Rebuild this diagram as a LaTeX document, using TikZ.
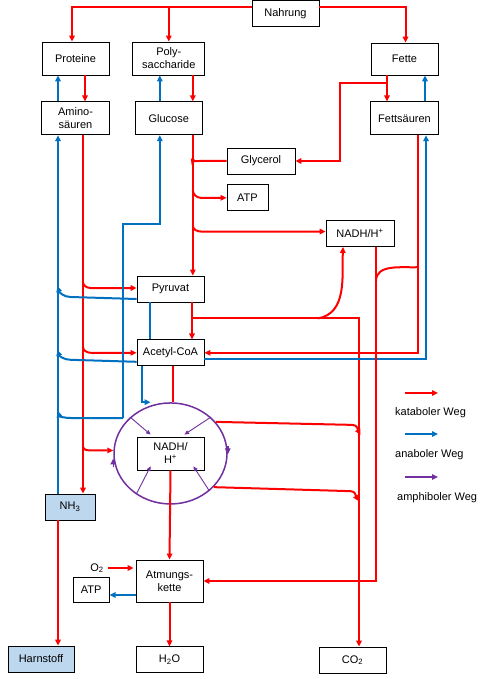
\documentclass[tikz,border=0pt]{standalone}
\usepackage{fontspec}
\setmainfont{Liberation Sans}
\usepackage{tikz}
\usetikzlibrary{positioning,arrows.meta,shapes.geometric}
\definecolor{rot}{RGB}{255,0,0}
\definecolor{blau}{RGB}{0,112,192}
\definecolor{violett}{RGB}{112,48,160}
\definecolor{hellblau}{RGB}{189,215,238}

\begin{document}
\begin{tikzpicture}[x=1pt,y=-1pt,
  box/.style={draw, line width=0.8pt, minimum width=67pt, minimum height=26pt, inner sep=1pt, align=center, font=\fontsize{11}{13}\selectfont},
  kat/.style={draw=rot, line width=2pt, -{Triangle[length=6pt,width=5.5pt]}},
  ana/.style={draw=blau, line width=2pt, -{Triangle[length=6pt,width=5.5pt]}},
  amph/.style={draw=violett, line width=0.9pt, -{Triangle[length=4.5pt,width=4pt]}},
  zyk/.style={draw=violett, line width=1.5pt, -{Triangle[length=6pt,width=5.5pt]}},
  legtext/.style={anchor=west, inner sep=0pt, font=\fontsize{11}{13}\selectfont}]
\useasboundingbox (0,0) rectangle (483,679);
\node[box] (nahrung) at (285.5,13.5) {Nahrung};
%----------------------------------
\node[box, minimum height=33pt] (proteine) at (75.5,58.5) {Proteine};
\node[box, minimum height=33pt, minimum width=72pt, right=23pt of proteine] (poly) {Poly-\\saccharide};
\node[box, minimum height=32pt] (fette) at (404.5,59) {Fette};
\node[box, minimum height=33pt, minimum width=68pt, below=26pt of proteine] (amino) {Amino-\\säuren};
\node[box, minimum height=33pt, below=26pt of poly] (glucose) {Glucose};
\node[box, minimum height=33pt, minimum width=68pt, below=26pt of fette] (fettsaeuren) {Fettsäuren};
%----------------------------------
\node[box, minimum width=68pt] (glycerol) at (261,161) {Glycerol};
\node[box, minimum width=41pt, below=10pt of glycerol.south west, anchor=north west] (atp1) {ATP};
\node[box, minimum width=68pt] (nadh1) at (360,233.5) {NADH/H\textsuperscript{+}};
\node[box] (pyruvat) at (170.5,289) {Pyruvat};
\node[box, below=37pt of pyruvat] (acetyl) {Acetyl-CoA};
\node[draw=violett, line width=1.5pt, ellipse, minimum width=113pt, minimum height=101pt, below=36pt of acetyl] (zyklus) {};
\node[box, minimum height=33pt] (nadh2) at (zyklus) {NADH/\\H\textsuperscript{+}};
%----------------------------------
\node[box, minimum width=50pt, fill=hellblau] (nh3) at (70,507) {NH\textsubscript{3}};
\node[box, minimum width=66pt, fill=hellblau] (harnstoff) at (41,659) {Harnstoff};
\node[box, minimum height=42pt] (atmung) at (169.5,581) {Atmungs-\\kette};
\node[box, minimum width=36pt, minimum height=25pt, left=26pt of atmung.south west, anchor=south east] (atp2) {ATP};
\node[inner sep=0pt, font=\fontsize{11}{13}\selectfont] (o2) at (97,568) {O\textsubscript{2}};
\node[box, below=44pt of atmung] (h2o) {H\textsubscript{2}O};
\node[box] (co2) at (352.5,660) {CO\textsubscript{2}};
%----------------------------------
\coordinate (p1) at ([xshift=9.5pt]proteine.south);   % rot
\coordinate (a1) at ([xshift=-17.5pt]amino.north);    % blau
\coordinate (g1) at ([xshift=24pt]poly.south);
\coordinate (g2) at ([xshift=-9pt]glucose.north);
\coordinate (f1) at ([xshift=-17.5pt]fette.south);
\coordinate (f2) at ([xshift=20.5pt]fettsaeuren.north);
\draw[kat] ([yshift=6pt]nahrung.west) -| ([xshift=-3.5pt]proteine.north);
\draw[kat] ([yshift=6pt]nahrung.west) -| (poly.north);
\draw[kat] ([yshift=6pt]nahrung.east) -| ([xshift=1pt]fette.north);
\draw[kat] (p1) -- (p1 |- amino.north);
\draw[ana] (a1) -- (a1 |- proteine.south);
\draw[kat] (g1) -- (g1 |- glucose.north);
\draw[ana] (g2) -- (g2 |- poly.south);
\draw[kat] (f1) -- (f1 |- fettsaeuren.north);
\draw[ana] (f2) -- (f2 |- fette.south);
\draw[kat] (f1) -- ++(0,8) -| ([xshift=45pt]glycerol.east) -- (glycerol.east);
%----------------------------------
\coordinate (g3) at ([xshift=24pt]glucose.south); % Glykolyse
\draw[kat] (g3) -- (g3 |- pyruvat.north);
\draw[kat] (glycerol.west) -- ++(-27,0) to[out=180,in=70] ++(-8,4);
\draw[kat] (g3 |- atp1.west) ++(0,-8) to[out=-90,in=180] ++(8,8) -- (atp1.west);
\draw[kat] (g3 |- nadh1.west) ++(0,-8) to[out=-90,in=180] ++(8,6) -- ([yshift=2pt]nadh1.west);
%----------------------------------
\coordinate (a2) at ([xshift=7.5pt]amino.south);  % rot
\coordinate (a3) at ([xshift=-17.5pt]amino.south); % blau
\draw[kat] (a2) -- (a2 |- nh3.north);
\draw[ana] (a3 |- nh3.north) -- (a3);
\draw[kat] (a2 |- pyruvat.west) ++(0,-7) to[out=-90,in=180] ++(8,6) -- ([yshift=1pt]pyruvat.west);
\draw[kat] (a2 |- acetyl.west) ++(0,-6) to[out=-90,in=180] ++(8,6) -- (acetyl.west);
\draw[kat] (a2 |- zyklus.west) ++(0,-7) to[out=-90,in=180] ++(8,4) -- ([yshift=3pt]zyklus.west);
\draw[ana] ([yshift=-10pt]pyruvat.west) -- ++(-66,-2) to[out=180,in=-75] ++(-13,-11);
\draw[ana] ([yshift=-9pt]acetyl.west) -- ++(-66,-2) to[out=180,in=-75] ++(-13,-10);
\coordinate (zk) at (123,418);
\draw[ana] (zk) -- ++(0,-194) -| (g2 |- glucose.south);
\draw[ana] (zk) -- ++(-52,0) to[out=180,in=-75] ++(-13,-7);
%----------------------------------
\coordinate (py) at ([xshift=21.5pt]pyruvat.south);
\coordinate (pv) at ([yshift=-16pt]py);
\coordinate (cl) at ([xshift=6.5pt]co2.north);
\draw[kat] (py) -- (py |- acetyl.north);
\draw[kat] (pv) -| (cl);
\draw[kat] ([xshift=126pt]pv) to[out=10,in=-92] ([xshift=-17pt]nadh1.south);
\draw[ana, -] ([xshift=-20.5pt]pyruvat.south) -- ([xshift=-20.5pt]acetyl.north);
\coordinate (f3) at ([xshift=13.5pt]fettsaeuren.south); % beta-Ox
\coordinate (f4) at ([xshift=21.5pt]fettsaeuren.south);
\coordinate (n1) at ([xshift=16pt]nadh1.south);
\draw[kat] (f3) |- (acetyl.east);
\draw[ana] ([yshift=-6pt]acetyl.east) -| (f4);
\draw[kat] (n1) |- (atmung.east);
\draw[kat, -] ([yshift=-132pt]f3) to[out=182,in=90] ++(-42,14);
%----------------------------------
\draw[ana] ([xshift=-28.5pt]acetyl.south) |- ([xshift=-20pt]zyklus.north);
\draw[kat, -] ([xshift=2.5pt]acetyl.south) -- ([xshift=2.5pt]zyklus.north);
\draw[kat] (zyklus.35) -- ++(137,3) to[out=0,in=120] ++(8,10);
\draw[kat] (zyklus.-38) -- ++(137,4) to[out=0,in=120] ++(8,10);
\draw[zyk] ([yshift=-14pt]zyklus.west) -- ([yshift=-5pt]zyklus.west);
\draw[zyk] ([yshift=7pt]zyklus.east) -- ([yshift=-1pt]zyklus.east);
\draw[amph] (zyklus.138) -- ([xshift=14pt,yshift=2pt]nadh2.north west);
\draw[amph] (zyklus.42) -- ([xshift=-20pt,yshift=2pt]nadh2.north east);
\draw[amph] (zyklus.-130) -- ([xshift=14pt,yshift=4pt]nadh2.south west);
\draw[amph] (zyklus.-44) -- ([xshift=-11pt,yshift=4pt]nadh2.south east);
%----------------------------------
\coordinate (aw) at ([yshift=-14pt]atmung.west);
\coordinate (nh) at ([xshift=-12pt]nh3.south);
\draw[kat] (nadh2.south) -- (atmung.north);
\draw[kat, shorten >=2pt] ([xshift=4pt]o2.east) -- (o2.east -| atmung.west);
\draw[ana] (aw) -- (aw -| atp2.east);
\draw[kat] (atmung.south) -- (h2o.north);
\draw[kat] (nh) -- (nh |- harnstoff.north);
%----------------------------------
\coordinate (l1) at (405,393);
\coordinate (l2) at (405,434);
\coordinate (l3) at (405,477);
\draw[kat] (l1) -- ++(33,0);
\draw[ana] (l2) -- ++(33,0);
\draw[kat, draw=violett] (l3) -- ++(33,0);
\node[legtext] (lk) at (395,413) {kataboler Weg};
\node[legtext] (la) at (395,455) {anaboler Weg};
\node[legtext] (lp) at (397,498) {amphiboler Weg};
\end{tikzpicture}
\end{document}
